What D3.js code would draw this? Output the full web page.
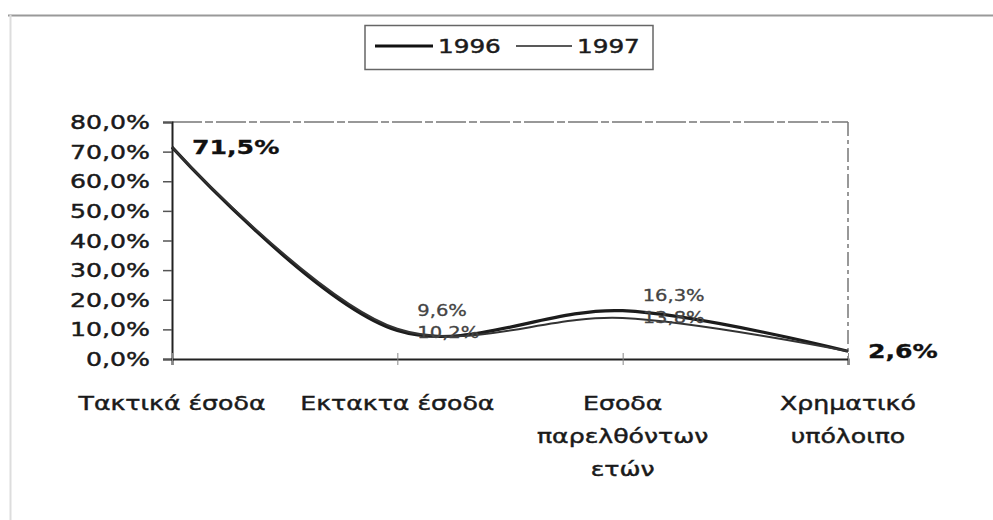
<!DOCTYPE html>
<html><head><meta charset="utf-8">
<script src="https://cdn.jsdelivr.net/npm/d3@7"></script>
<style>body{margin:0;background:#fff;} svg{display:block;}</style>
</head><body>
<svg id="c" width="993" height="520"></svg>
<script>
const categories = [["Τακτικά έσοδα"], ["Εκτακτα έσοδα"], ["Εσοδα", "παρελθόντων", "ετών"], ["Χρηματικό", "υπόλοιπο"]];
const years = ["1996", "1997"];
const values1996 = [0.715, 0.096, 0.163, 0.026];
const values1997 = [0.715, 0.102, 0.138, 0.026];
const yTicks = [0, 0.1, 0.2, 0.3, 0.4, 0.5, 0.6, 0.7, 0.8];

const svg = d3.select("#c");
const FONT = "DejaVu Sans, Liberation Sans, Arial, sans-serif";
const SX = 1.26;
const loc = d3.formatLocale({decimal: ",", thousands: ".", grouping: [3], currency: ["", "€"]});
const fmt1 = loc.format(".1%");

const L = 172, R = 848, T = 122, B = 359;
const x = d3.scalePoint().domain(d3.range(categories.length)).range([L, R]);
const y = d3.scaleLinear().domain([0, 0.8]).range([B, T]);

// outer frame
svg.append("line").attr("x1", 8).attr("x2", 993).attr("y1", 15.5).attr("y2", 15.5).attr("stroke", "#999").attr("stroke-width", 2);
svg.append("line").attr("x1", 10.5).attr("x2", 10.5).attr("y1", 15).attr("y2", 520).attr("stroke", "#ddd").attr("stroke-width", 2);

function stext(g, tx, ty, str, opts) {
  const gg = g.append("g").attr("transform", `translate(${tx},${ty}) scale(${opts.sx || SX},1)`);
  const fill = opts.fill || "#1a1a1a";
  return gg.append("text").text(str)
    .attr("font-family", FONT).attr("font-size", opts.size || 20)
    .attr("font-weight", opts.weight || "normal")
    .attr("fill", fill)
    .attr("stroke", fill).attr("stroke-width", opts.sw == null ? 0.45 : opts.sw)
    .attr("text-anchor", opts.anchor || "start")
    .attr("dominant-baseline", "central");
}

// plot area border (dashed top/right)
svg.append("line").attr("x1", L).attr("x2", R).attr("y1", T).attr("y2", T)
  .attr("stroke", "#777").attr("stroke-width", 1.5).attr("stroke-dasharray", "30,3,8,3");
svg.append("line").attr("x1", R).attr("x2", R).attr("y1", T).attr("y2", B)
  .attr("stroke", "#777").attr("stroke-width", 1.5).attr("stroke-dasharray", "14,4,4,4");

// y axis
const yAxis = svg.append("g").attr("transform", `translate(${L},0)`)
  .call(d3.axisLeft(y).tickValues(yTicks).tickSize(9).tickFormat(""));
yAxis.select(".domain").attr("stroke", "#222").attr("stroke-width", 2);
yAxis.selectAll(".tick line").attr("stroke", "#555").attr("stroke-width", 1.5);
yTicks.forEach(v => stext(svg, 150, y(v), fmt1(v), {anchor: "end", size: 20}));

// x axis
const xAxis = svg.append("g").attr("transform", `translate(0,${B})`)
  .call(d3.axisBottom(x).tickSize(6).tickFormat(""));
xAxis.select(".domain").attr("stroke", "#222").attr("stroke-width", 2);
xAxis.selectAll(".tick line").attr("stroke", "#888").attr("stroke-width", 1).attr("y1", -6);

// category labels
categories.forEach((lines, i) => {
  lines.forEach((ln, j) => stext(svg, x(i), 403 + j * 33, ln, {anchor: "middle", size: 20}));
});

// lines
const line = d3.line().x((d, i) => x(i)).y(d => y(d)).curve(d3.curveCatmullRom.alpha(0.5));
const series = [
  {name: years[0], vals: values1996, w: 3.2, c: "#1c1c1c"},
  {name: years[1], vals: values1997, w: 2, c: "#333"}
];
series.forEach(s => {
  svg.append("path").attr("d", line(s.vals)).attr("fill", "none")
    .attr("stroke", s.c).attr("stroke-width", s.w);
});

// data labels: edge labels coincide (same value), middle ones stacked
const pct = v => (v * 100).toFixed(1).replace(".", ",") + "%";
series.forEach((s, si) => {
  s.vals.forEach((v, i) => {
    const edge = (i === 0 || i === s.vals.length - 1);
    if (edge) {
      if (si === 0) stext(svg, x(i) + 20, y(v), pct(v), {size: 20, weight: "bold", fill: "#111", sw: 0.3});
    } else {
      const mid = (y(series[0].vals[i]) + y(series[1].vals[i])) / 2;
      const yy = si === 0 ? mid - 19 : mid + 3;
      stext(svg, x(i) + 20, yy, pct(v), {size: 16, fill: "#444", sw: 0.3, sx: 1.22});
    }
  });
});

// legend
const lg = svg.append("g");
lg.append("rect").attr("x", 365).attr("y", 25.5).attr("width", 288).attr("height", 44)
  .attr("fill", "#fff").attr("stroke", "#666").attr("stroke-width", 1.5);
lg.append("line").attr("x1", 375).attr("x2", 433).attr("y1", 46).attr("y2", 46).attr("stroke", "#111").attr("stroke-width", 3);
stext(lg, 438, 47, years[0], {size: 19, sx: 1.3});
lg.append("line").attr("x1", 516).attr("x2", 572).attr("y1", 46).attr("y2", 46).attr("stroke", "#222").attr("stroke-width", 1.6);
stext(lg, 577, 47, years[1], {size: 19, sx: 1.3});
</script>
</body></html>
